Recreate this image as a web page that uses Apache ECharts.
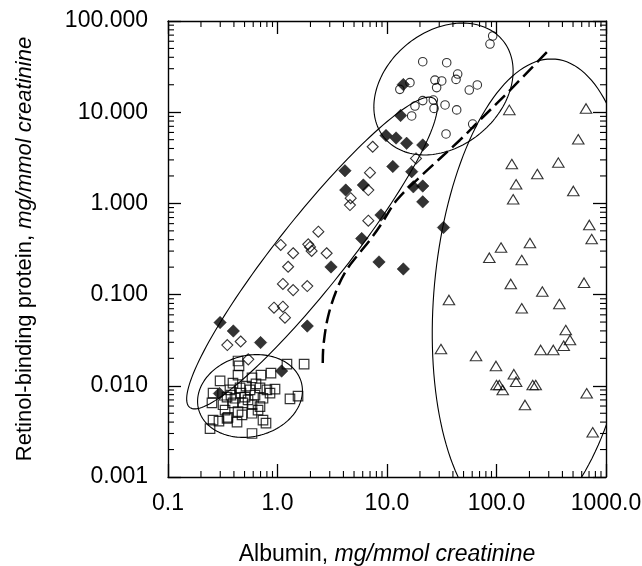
<!DOCTYPE html>
<html><head><meta charset="utf-8">
<script src="https://cdn.jsdelivr.net/npm/echarts@6/dist/echarts.min.js"></script>
<style>html,body{margin:0;padding:0;background:#fff}#c{width:642px;height:566px}</style>
</head><body><div id="c"></div>
<script>
const xTickLabels = ['0.1','1.0','10.0','100.0','1000.0'];
const yTickLabels = ['0.001','0.010','0.100','1.000','10.000','100.000'];
const minorMultipliers = [2,3,4,5,6,7,8,9];
const xDecades = [0.1,1,10,100];
const yDecades = [0.001,0.01,0.1,1,10];

const squares = [
[0.436,0.0187],[0.445,0.0165],[1.22,0.0173],[1.75,0.0173],[0.872,0.0138],[0.707,0.0131],[0.585,0.0122],[0.436,0.0131],[0.299,0.0113],[0.392,0.0107],
[0.258,0.0083],[0.368,0.0090],[0.455,0.0095],[0.561,0.0090],[0.692,0.0095],[0.80,0.0090],[0.949,0.0092],[0.346,0.0075],[0.409,0.0073],[0.505,0.0075],
[0.623,0.0079],[0.737,0.0073],[0.252,0.0065],[0.318,0.0062],[0.392,0.0065],[0.484,0.0065],[0.585,0.0062],[0.692,0.0059],[1.30,0.0072],[1.54,0.0077],
[0.332,0.0054],[0.436,0.0052],[0.585,0.0050],[0.664,0.0054],[0.346,0.0044],[0.474,0.0048],[0.258,0.0042],[0.427,0.0040],[0.737,0.0042],[0.785,0.0039],
[0.242,0.0034],[0.585,0.0030],[0.292,0.0041],[0.353,0.0045],[0.516,0.0099],[0.636,0.0105],[0.376,0.0079],[0.538,0.0070],[0.854,0.0083],[0.464,0.0083]
];
const openDiamonds = [
[7.40,4.18],[6.99,2.17],[6.75,1.40],[4.66,1.14],[4.59,0.96],[6.75,0.646],[2.36,0.489],[1.07,0.350],[1.91,0.356],[2.05,0.301],
[1.98,0.333],[2.81,0.284],[1.39,0.284],[1.25,0.202],[1.12,0.131],[1.39,0.112],[1.87,0.124],[0.929,0.0718],[1.12,0.0737],[1.17,0.0558],
[0.348,0.0280],[0.461,0.0306],[0.541,0.0195],[18.4,3.11]
];
const filledDiamonds = [
[14.1,20.1],[13.3,9.20],[9.79,5.55],[12.1,5.21],[15.1,4.56],[21.2,4.37],[11.3,2.54],[16.8,2.23],[4.13,2.28],[4.20,1.40],
[6.08,1.59],[17.4,1.52],[21.2,1.55],[21.2,1.04],[8.81,0.746],[5.87,0.412],[3.08,0.201],[8.45,0.228],[14.1,0.191],[32.8,0.544],
[1.87,0.0452],[0.299,0.0494],[0.395,0.0399],[0.700,0.0298],[1.09,0.0145],[0.295,0.00823]
];
const circles = [
[92.3,68.5],[87.2,55.9],[21.2,35.8],[35.1,34.9],[44.2,26.2],[42.7,22.9],[27.4,22.5],[31.6,22.0],[28.4,18.6],[16.2,21.1],
[13.1,17.8],[56.4,17.5],[66.8,19.9],[21.2,13.4],[18.0,11.7],[26.5,13.6],[26.9,11.0],[33.9,12.0],[43.3,10.6],[16.8,9.09],
[34.6,5.77],[60.6,7.42]
];
const triangles = [
[131,10.6],[657,11.0],[558,5.05],[138,2.70],[367,2.80],[236,2.10],[151,1.62],[503,1.37],[142,1.11],[704,0.580],
[740,0.407],[202,0.368],[110,0.328],[86.0,0.254],[170,0.239],[630,0.135],[135,0.131],[262,0.108],[36.8,0.0873],[375,0.0788],
[170,0.0708],[429,0.0409],[469,0.0318],[411,0.0275],[253,0.0247],[330,0.0247],[31.1,0.0253],[65.0,0.0212],[98.9,0.0165],[144,0.0134],
[151,0.0111],[100,0.0102],[106,0.0102],[114,0.0090],[214,0.0102],[228,0.0102],[182,0.00616],[666,0.00828],[756,0.00309]
];
const dashedCurve = [
[2.59,0.0178],[2.63,0.0280],[2.89,0.0568],[3.46,0.112],[4.27,0.186],[5.32,0.265],[6.99,0.397],[9.00,0.610],
[12.3,1.09],[20.0,1.95],[46.4,4.96],[70.7,8.21],[125,16.2],[295,46.9]
];
// each ellipse: centre (x,y), end of one conjugate semi-diameter (x,y), end of the other (x,y)
const ellipses = [
[0.561,0.00773, 1.674,0.00773, 0.647,0.02198],
[2.065,0.2858, 0.1578,0.0058, 3.674,0.1652],
[32.8,17.96, 113.8,61.5, 71.0,5.855],
[218.8,0.1042, 1790,0.1042, 151,0.000283]
];

const xMinor = xDecades.flatMap(d => minorMultipliers.map(m => +(d*m).toPrecision(3)));
const yMinor = yDecades.flatMap(d => minorMultipliers.map(m => +(d*m).toPrecision(3)));

function pickLabel(list, v){
  const lv = Math.log10(v);
  const f = list.find(l => Math.abs(Math.log10(parseFloat(l)) - lv) < 1e-6);
  return f === undefined ? '' : f;
}

const FONT = '"Liberation Sans", Arial, Helvetica, sans-serif';
const axisCommon = {
  type: 'log', logBase: 10,
  axisLine: {show: true, onZero: false, lineStyle: {color: '#000', width: 1.4}},
  axisTick: {show: true, inside: true, length: 13, lineStyle: {color: '#000', width: 1.3}},
  splitLine: {show: false},
  minorTick: {show: false}
};

const chart = echarts.init(document.getElementById('c'), null, {renderer: 'canvas'});
chart.setOption({
  animation: false,
  backgroundColor: '#fff',
  grid: {left: 168, right: 36, top: 21, bottom: 89, containLabel: false, outerBoundsMode: 'none'},
  xAxis: [
    Object.assign({}, axisCommon, {
      position: 'bottom', min: 0.1, max: 1000,
      axisLabel: {show: true, margin: 15, color: '#000', fontSize: 23, fontFamily: FONT,
        formatter: v => pickLabel(xTickLabels, v)},
      name: '{n|Albumin, }{i|mg/mmol creatinine}',
      nameLocation: 'middle', nameGap: 66,
      nameTextStyle: {color: '#000', fontFamily: FONT, rich: {
        n: {fontSize: 23, fontFamily: FONT, color: '#000'},
        i: {fontSize: 23, fontFamily: FONT, fontStyle: 'italic', color: '#000'}}}
    }),
    Object.assign({}, axisCommon, {position: 'top', min: 0.1, max: 1000, axisLabel: {show: false}})
  ],
  yAxis: [
    Object.assign({}, axisCommon, {
      position: 'left', min: 0.001, max: 100,
      axisLabel: {show: true, margin: 20, color: '#000', fontSize: 23, fontFamily: FONT,
        formatter: v => pickLabel(yTickLabels, v)},
      name: '{n|Retinol-binding protein, }{i|mg/mmol creatinine}',
      nameLocation: 'middle', nameGap: 132, nameRotate: 90,
      nameTextStyle: {color: '#000', fontFamily: FONT, rich: {
        n: {fontSize: 22, fontFamily: FONT, color: '#000'},
        i: {fontSize: 22, fontFamily: FONT, fontStyle: 'italic', color: '#000'}}}
    }),
    Object.assign({}, axisCommon, {position: 'right', min: 0.001, max: 100, axisLabel: {show: false}})
  ],
  series: [
    {
      type: 'custom', name: 'ellipses', xAxisIndex: 0, yAxisIndex: 0, clip: true, silent: true,
      data: ellipses,
      renderItem: function(params, api){
        const c = api.coord([api.value(0), api.value(1)]);
        const a = api.coord([api.value(2), api.value(3)]);
        const b = api.coord([api.value(4), api.value(5)]);
        const pts = [];
        for (let k = 0; k <= 160; k++){
          const t = k / 160 * 2 * Math.PI;
          pts.push([c[0] + Math.cos(t)*(a[0]-c[0]) + Math.sin(t)*(b[0]-c[0]),
                    c[1] + Math.cos(t)*(a[1]-c[1]) + Math.sin(t)*(b[1]-c[1])]);
        }
        const cs = params.coordSys;
        return {type: 'polyline', shape: {points: pts},
          style: {stroke: '#000', fill: null, lineWidth: 1.1},
          clipPath: {type: 'rect', shape: {x: cs.x, y: cs.y, width: cs.width, height: cs.height}}};
      }
    },
    {
      type: 'custom', name: 'xMinor', xAxisIndex: 0, yAxisIndex: 0, clip: false, silent: true,
      data: xMinor.map(v => [v, 1]),
      renderItem: function(params, api){
        const x = api.coord([api.value(0), 1])[0];
        const cs = params.coordSys;
        const st = {stroke: '#000', lineWidth: 1.1};
        return {type: 'group', children: [
          {type: 'line', shape: {x1: x, y1: cs.y + cs.height, x2: x, y2: cs.y + cs.height - 6}, style: st},
          {type: 'line', shape: {x1: x, y1: cs.y, x2: x, y2: cs.y + 6}, style: st}
        ]};
      }
    },
    {
      type: 'custom', name: 'yMinor', xAxisIndex: 0, yAxisIndex: 0, clip: false, silent: true,
      data: yMinor.map(v => [1, v]),
      renderItem: function(params, api){
        const y = api.coord([1, api.value(1)])[1];
        const cs = params.coordSys;
        const st = {stroke: '#000', lineWidth: 1.1};
        return {type: 'group', children: [
          {type: 'line', shape: {x1: cs.x, y1: y, x2: cs.x + 6, y2: y}, style: st},
          {type: 'line', shape: {x1: cs.x + cs.width, y1: y, x2: cs.x + cs.width - 6, y2: y}, style: st}
        ]};
      }
    },
    {
      type: 'line', name: 'dashed', data: dashedCurve, smooth: 0.35, symbol: 'none', silent: true,
      lineStyle: {color: '#000', width: 2.5, type: [14, 6]}
    },
    {
      type: 'scatter', name: 'squares', data: squares, symbol: 'rect', symbolSize: 9.5, silent: true,
      itemStyle: {color: 'rgba(0,0,0,0)', borderColor: '#000', borderWidth: 1.2}
    },
    {
      type: 'scatter', name: 'openDiamonds', data: openDiamonds, symbol: 'diamond', symbolSize: 11, silent: true,
      itemStyle: {color: 'rgba(0,0,0,0)', borderColor: '#000', borderWidth: 1.1}
    },
    {
      type: 'scatter', name: 'filledDiamonds', data: filledDiamonds, symbol: 'diamond', symbolSize: 12.5, silent: true,
      itemStyle: {color: '#000', borderColor: '#000', borderWidth: 0.5}
    },
    {
      type: 'scatter', name: 'circles', data: circles, symbol: 'circle', symbolSize: 8.5, silent: true,
      itemStyle: {color: 'rgba(0,0,0,0)', borderColor: '#000', borderWidth: 1.1}
    },
    {
      type: 'scatter', name: 'triangles', data: triangles, symbol: 'triangle', symbolSize: [11.5, 9.5], silent: true,
      itemStyle: {color: 'rgba(0,0,0,0)', borderColor: '#000', borderWidth: 1.1}
    }
  ]
});
</script></body></html>
